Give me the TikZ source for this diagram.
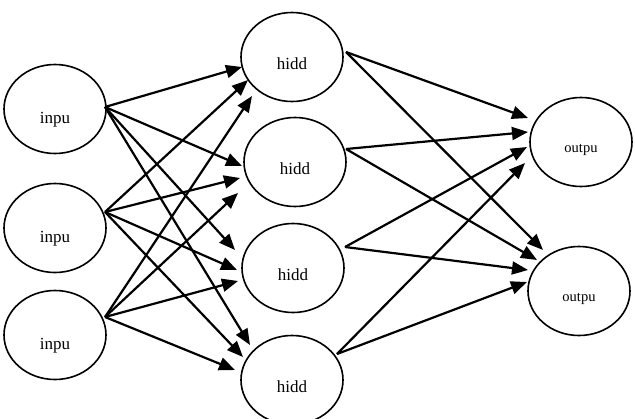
\documentclass[tikz,border=0pt]{standalone}
\usepackage{fontspec}
\setmainfont{Liberation Serif}
\usepackage{tikz}
\usetikzlibrary{arrows.meta,shapes.geometric,calc}

\begin{document}
\begin{tikzpicture}[x=1pt,y=-1pt,
  unit/.style={draw=black,line width=1.6pt,ellipse,inner sep=0pt,
               minimum width=102pt,minimum height=89pt,
               font=\fontsize{17}{20}\selectfont,text height=25pt,text depth=0pt},
  inunit/.style={unit,text height=29pt},
  outunit/.style={unit,font=\fontsize{14.5}{17}\selectfont,text height=21pt},
  arr/.style={-{Triangle[length=16pt,width=13pt]},line width=2.2pt,draw=black}
]
\useasboundingbox (0,0) rectangle (635,418);

\node[inunit] (i1) at (55,109) {inpu};
\node[inunit] (i2) at (55,228) {inpu};
\node[inunit] (i3) at (55,335) {inpu};

\node[unit] (h1) at (292,57) {hidd};
\node[unit] (h2) at (295,162) {hidd};
\node[unit] (h3) at (293,268) {hidd};
\node[unit] (h4) at (292,380) {hidd};

\node[outunit] (o1) at (581,142) {outpu};
\node[outunit] (o2) at (579,291) {outpu};

% input -> hidden
\draw[arr] ($(i1)+(50,-2)$)--($(h1)+(-50,10)$);
\draw[arr] ($(i1)+(50,-2)$)--($(h2)+(-53,4)$);
\draw[arr] ($(i1)+(50,-2)$)--($(h3)+(-58,-18)$);
\draw[arr] ($(i1)+(50,-2)$)--($(h4)+(-42,-35)$);
\draw[arr] ($(i2)+(50,-16)$)--($(h1)+(-44,23)$);
\draw[arr] ($(i2)+(50,-16)$)--($(h2)+(-55,16)$);
\draw[arr] ($(i2)+(50,-16)$)--($(h3)+(-56,2)$);
\draw[arr] ($(i2)+(50,-16)$)--($(h4)+(-49,-23)$);
\draw[arr] ($(i3)+(50,-18)$)--($(h1)+(-40,39)$);
\draw[arr] ($(i3)+(50,-18)$)--($(h2)+(-57,31)$);
\draw[arr] ($(i3)+(50,-18)$)--($(h3)+(-55,13)$);
\draw[arr] ($(i3)+(50,-18)$)--($(h4)+(-57,-10)$);

% hidden -> output
\draw[arr] ($(h1)+(54,-5)$)--($(o1)+(-53,-24)$);
\draw[arr] ($(h1)+(54,-5)$)--($(o2)+(-36,-41)$);
\draw[arr] ($(h2)+(51,-13)$)--($(o1)+(-53,-10)$);
\draw[arr] ($(h2)+(51,-13)$)--($(o2)+(-42,-31)$);
\draw[arr] ($(h3)+(52,-21)$)--($(o1)+(-54,5)$);
\draw[arr] ($(h3)+(52,-21)$)--($(o2)+(-51,-21)$);
\draw[arr] ($(h4)+(45,-26)$)--($(o1)+(-56,21)$);
\draw[arr] ($(h4)+(45,-26)$)--($(o2)+(-52,-9)$);
\end{tikzpicture}
\end{document}
